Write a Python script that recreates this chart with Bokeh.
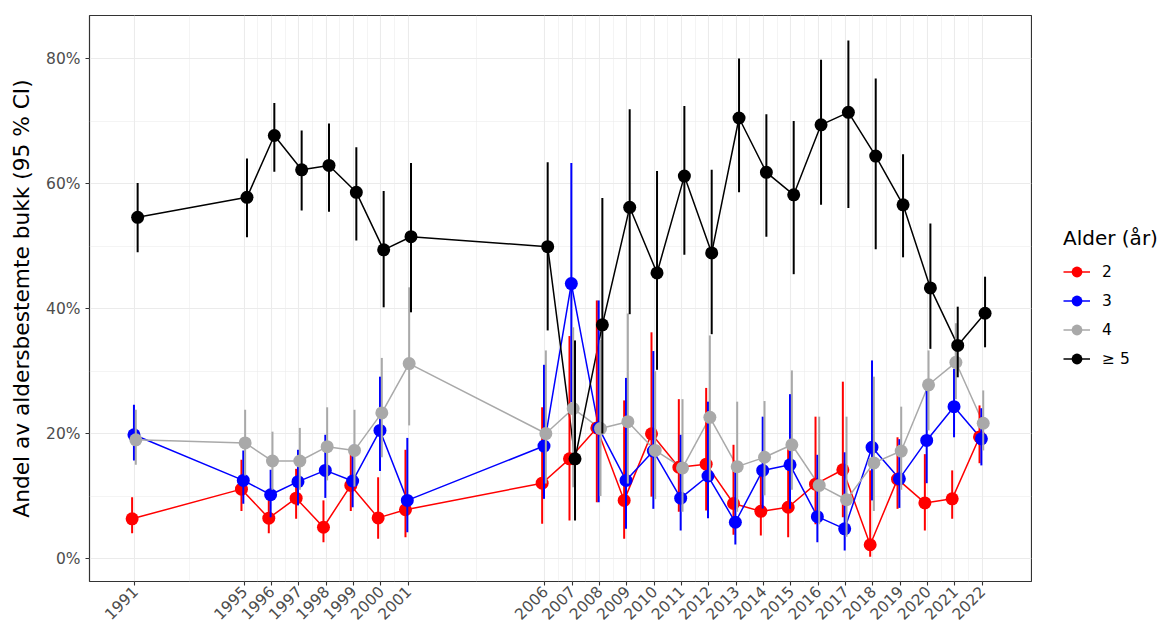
import math
import numpy as np
from bokeh.plotting import figure
from bokeh.layouts import row
from bokeh.models import (FixedTicker, NumeralTickFormatter, Legend, LegendItem,
                          ColumnDataSource, Range1d)
from bokeh.embed import file_html
from bokeh.resources import INLINE

years = [1991, 1995, 1996, 1997, 1998, 1999, 2000, 2001,
         2006, 2007, 2008, 2009, 2010, 2011, 2012, 2013, 2014,
         2015, 2016, 2017, 2018, 2019, 2020, 2021, 2022]

# Age 2 (percent)
a2_est = [6.35, 11.1, 6.45, 9.65, 5.0, 11.7, 6.5, 7.8, 12.05, 15.95, 20.9, 9.3, 19.95,
          14.6, 15.1, 8.8, 7.55, 8.2, 11.9, 14.2, 2.2, 12.7, 8.9, 9.55, 19.45]
a2_low = [4.05, 7.6, 4.05, 6.35, 2.6, 7.6, 3.15, 3.4, 5.55, 6.1, 9.0, 3.15, 9.9,
          7.5, 7.7, 3.8, 3.7, 3.4, 5.5, 6.6, 0.3, 7.95, 4.5, 6.35, 15.25]
a2_high = [9.8, 15.8, 10.1, 14.35, 9.3, 17.7, 13.0, 17.4, 24.2, 35.6, 41.3, 25.3, 36.2,
           25.5, 27.3, 18.2, 13.5, 18.4, 22.7, 28.3, 14.1, 19.4, 16.7, 14.1, 24.5]

# Age 3
a3_est = [19.8, 12.5, 10.2, 12.3, 14.1, 12.4, 20.5, 9.3, 18.0, 44.0, 20.9, 12.5, 17.2,
          9.65, 13.2, 5.8, 14.1, 15.0, 6.7, 4.75, 17.8, 12.75, 18.9, 24.3, 19.15]
a3_low = [15.7, 8.75, 6.6, 8.5, 9.7, 8.2, 14.0, 4.2, 9.55, 25.0, 9.0, 4.75, 7.95,
          4.5, 6.45, 2.25, 8.0, 7.95, 2.6, 1.3, 9.3, 8.1, 12.05, 19.4, 14.9]
a3_high = [24.6, 17.3, 14.2, 17.4, 19.8, 18.2, 29.1, 19.3, 31.0, 63.3, 41.3, 28.9, 33.2,
           19.8, 25.1, 14.6, 22.7, 26.3, 16.6, 17.0, 31.7, 19.1, 28.2, 30.35, 24.05]

# Age 4
a4_est = [19.0, 18.5, 15.6, 15.6, 17.9, 17.3, 23.3, 31.2, 20.0, 24.0, 20.8, 21.9, 17.3,
          14.5, 22.6, 14.7, 16.2, 18.2, 11.7, 9.4, 15.3, 17.2, 27.8, 31.4, 21.65]
a4_low = [15.0, 13.3, 11.0, 11.0, 12.5, 11.5, 16.2, 21.3, 12.0, 11.4, 10.0, 12.0, 9.5,
          7.5, 12.5, 7.5, 10.1, 11.0, 5.5, 3.5, 7.6, 11.0, 20.5, 25.5, 17.3]
a4_high = [23.8, 23.8, 20.3, 20.9, 24.2, 23.8, 32.1, 43.4, 33.3, 37.0, 35.0, 39.2, 30.0,
           25.5, 35.7, 25.1, 25.2, 30.1, 22.7, 22.7, 29.1, 24.3, 33.3, 37.65, 26.9]

# Age >= 5
a5_est = [54.6, 57.8, 67.7, 62.2, 62.9, 58.6, 49.4, 51.5, 49.9, 15.95, 37.4, 56.2, 45.7,
          61.2, 48.9, 70.5, 61.8, 58.2, 69.4, 71.4, 64.4, 56.6, 43.3, 34.1, 39.25]
a5_low = [49.0, 51.4, 61.9, 55.7, 55.5, 50.9, 40.2, 39.4, 36.5, 6.1, 20.0, 39.1, 30.2,
          48.6, 35.9, 58.6, 51.5, 45.5, 56.6, 56.1, 49.5, 48.2, 33.55, 29.0, 33.8]
a5_high = [60.1, 64.0, 72.9, 68.5, 69.6, 65.8, 58.8, 63.3, 63.4, 34.9, 57.7, 71.9, 62.0,
           72.4, 62.2, 80.0, 71.1, 70.0, 79.8, 82.9, 76.8, 64.7, 53.6, 40.3, 45.1]

groups = ["2", "3", "4", "\u2265 5"]
colors = ["#FF0000", "#0000FF", "#A9A9A9", "#000000"]
series = [(a2_est, a2_low, a2_high), (a3_est, a3_low, a3_high),
          (a4_est, a4_low, a4_high), (a5_est, a5_low, a5_high)]

dodge_width = 0.27
n = len(groups)
offsets = [(i - (n - 1) / 2) * dodge_width / n for i in range(n)]

FONT = "DejaVu Sans"
H = 628

p = figure(width=1032, height=H, output_backend="svg", toolbar_location=None,
           x_range=Range1d(1989.34, 2023.8), y_range=Range1d(-0.0368, 0.869),
           min_border_left=89, min_border_top=15, min_border_right=1, min_border_bottom=47)

p.background_fill_color = "white"
p.border_fill_color = "white"
p.outline_line_color = "#333333"
p.outline_line_width = 1.2

mid = [(years[i] + years[i + 1]) / 2 for i in range(len(years) - 1)]
p.xaxis.ticker = FixedTicker(ticks=years, minor_ticks=mid)
p.yaxis.ticker = FixedTicker(ticks=[0, 0.2, 0.4, 0.6, 0.8], minor_ticks=[-0.1, 0.1, 0.3, 0.5, 0.7])
p.yaxis.formatter = NumeralTickFormatter(format="0%")

for g in (p.xgrid, p.ygrid):
    g.grid_line_color = "#EBEBEB"
    g.grid_line_width = 1.1
    g.minor_grid_line_color = "#EBEBEB"
    g.minor_grid_line_width = 0.55

for ax in (p.xaxis, p.yaxis):
    ax.axis_line_color = None
    ax.major_tick_line_color = "#333333"
    ax.major_tick_line_width = 1.1
    ax.major_tick_out = 4
    ax.major_tick_in = 0
    ax.minor_tick_line_color = None
    ax.major_label_text_color = "#4D4D4D"
    ax.major_label_text_font = FONT
    ax.major_label_text_font_size = "15.5px"

p.yaxis.major_label_standoff = 5
p.xaxis.major_label_orientation = math.pi / 4
p.xaxis.major_label_standoff = 3

p.yaxis.axis_label = "Andel av aldersbestemte bukk (95 % CI)"
p.yaxis.axis_label_text_font = FONT
p.yaxis.axis_label_text_font_size = "21.7px"
p.yaxis.axis_label_text_font_style = "normal"
p.yaxis.axis_label_text_color = "#000000"
p.yaxis.axis_label_standoff = 9

sources = []
for i, (est, low, high) in enumerate(series):
    xs = np.array(years, dtype=float) + offsets[i]
    src = ColumnDataSource(dict(x=xs, y=np.array(est) / 100.0,
                                lo=np.array(low) / 100.0, hi=np.array(high) / 100.0))
    p.line("x", "y", source=src, line_color=colors[i], line_width=1.5)
    sources.append(src)

for i, src in enumerate(sources):
    p.segment(x0="x", y0="lo", x1="x", y1="hi", source=src,
              line_color=colors[i], line_width=2)
    p.scatter("x", "y", source=src, size=13, fill_color=colors[i],
              line_color=colors[i], line_width=0)

# Legend panel (separate figure so it can sit outside the plotting frame)
lf = figure(width=128, height=H, output_backend="svg", toolbar_location=None,
            x_range=Range1d(0, 1), y_range=Range1d(0, 1),
            min_border_left=0, min_border_right=0, min_border_top=0, min_border_bottom=0)
lf.axis.visible = False
lf.grid.visible = False
lf.outline_line_color = None
lf.background_fill_color = "white"
lf.border_fill_color = "white"

items = []
for i, g in enumerate(groups):
    # placeholder renderers (off-frame) that only supply the legend glyph styles
    dummy = ColumnDataSource(dict(x=[-10.0, -9.0], y=[-10.0, -10.0]))
    lr = lf.line("x", "y", source=dummy, line_color=colors[i], line_width=1.5)
    sr = lf.scatter("x", "y", source=dummy, fill_color=colors[i], line_color=colors[i], line_width=0)
    items.append(LegendItem(label=g, renderers=[lr, sr]))

legend = Legend(items=items, title="Alder (\u00e5r)", location=(31, 209),
                title_text_font=FONT, title_text_font_size="20px",
                title_text_font_style="normal", title_text_color="#000000",
                label_text_font=FONT, label_text_font_size="15.5px",
                label_text_color="#000000",
                glyph_width=27, glyph_height=27, label_height=27, spacing=2,
                label_standoff=12, title_standoff=8, padding=0, margin=0,
                border_line_color=None, background_fill_alpha=0)
lf.add_layout(legend)

layout = row(p, lf, spacing=0)
open("out.html", "w").write(file_html(layout, INLINE))
